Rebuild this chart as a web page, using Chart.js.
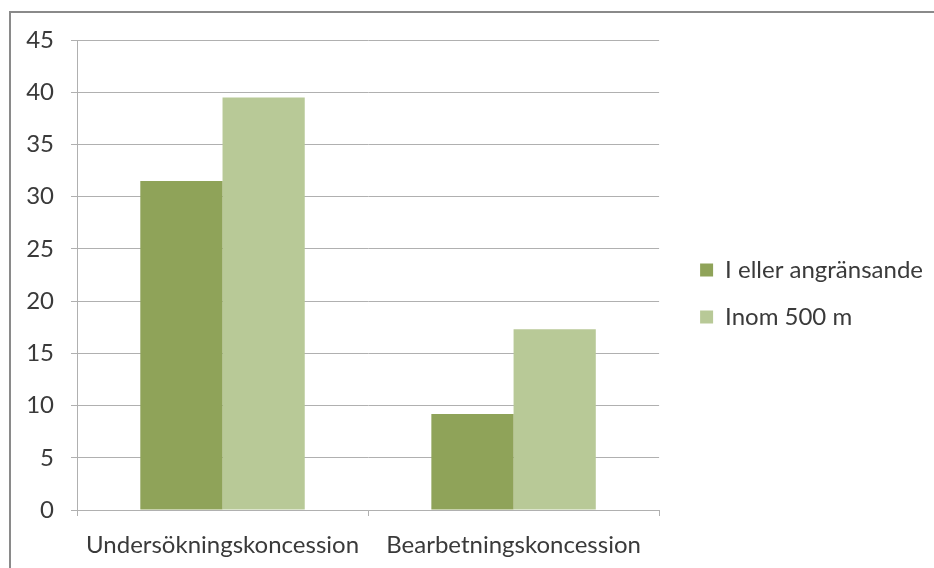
<!DOCTYPE html>
<html>
<head>
<meta charset="utf-8">
<script src="https://cdn.jsdelivr.net/npm/chart.js@4"></script>
<style>
    body { margin: 0; background: #fff; }
    #wrap { position: relative; width: 934px; height: 568px; overflow: hidden; }
    #frame {
        position: absolute; left: 9px; top: 11px; width: 960px; height: 600px;
        border: 2px solid #8a8a8a; pointer-events: none;
    }
</style>
</head>
<body>
<div id="wrap">
    <canvas id="chart" width="934" height="568"></canvas>
    <div id="frame"></div>
</div>
<script>
// data
const categories = ['Undersökningskoncession', 'Bearbetningskoncession'];
const seriesNames = ['I eller angränsande', 'Inom 500 m'];
const iEllerAngransande = [31.5, 9.2];
const inom500m = [39.5, 17.3];
const yTicks = [0, 5, 10, 15, 20, 25, 30, 35, 40, 45];

const axisColor = '#b0b0b0';
const textColor = '#3a3a3a';
const fontFamily = 'Lato';

// push the legend a bit further away from the plot, like the original
const legendNudge = {
    id: 'legendNudge',
    afterLayout(chart) {
        const lg = chart.legend;
        lg.left += 18; lg.right += 18;
        lg.top -= 6; lg.bottom -= 6;
    }
};

new Chart(document.getElementById('chart').getContext('2d'), {
    type: 'bar',
    data: {
        labels: categories,
        datasets: [{
            label: seriesNames[0],
            data: iEllerAngransande,
            backgroundColor: '#8fa359'
        }, {
            label: seriesNames[1],
            data: inom500m,
            backgroundColor: '#b8c997'
        }]
    },
    options: {
        responsive: false,
        animation: false,
        layout: { padding: { left: 12, top: 40, right: 19, bottom: 9 } },
        datasets: {
            bar: { categoryPercentage: 0.565, barPercentage: 1.0 }
        },
        scales: {
            x: {
                afterFit: axis => { axis.height = 49; },
                grid: { offset: true, drawOnChartArea: false, color: axisColor, tickLength: 6 },
                border: { color: axisColor },
                ticks: { color: textColor, padding: 15, font: { family: fontFamily, size: 24 } }
            },
            y: {
                min: 0,
                max: 45,
                afterFit: axis => { axis.width = 65; },
                afterBuildTicks: axis => { axis.ticks = yTicks.map(v => ({ value: v })); },
                grid: { color: axisColor, tickLength: 6 },
                border: { color: axisColor },
                ticks: { color: textColor, padding: 17, font: { family: fontFamily, size: 24 } }
            }
        },
        plugins: {
            tooltip: { enabled: false },
            legend: {
                position: 'right',
                maxWidth: 320,
                labels: {
                    color: textColor,
                    boxWidth: 13,
                    boxHeight: 13,
                    padding: 23,
                    font: { family: fontFamily, size: 24 }
                }
            }
        }
    },
    plugins: [legendNudge]
});
</script>
</body>
</html>
